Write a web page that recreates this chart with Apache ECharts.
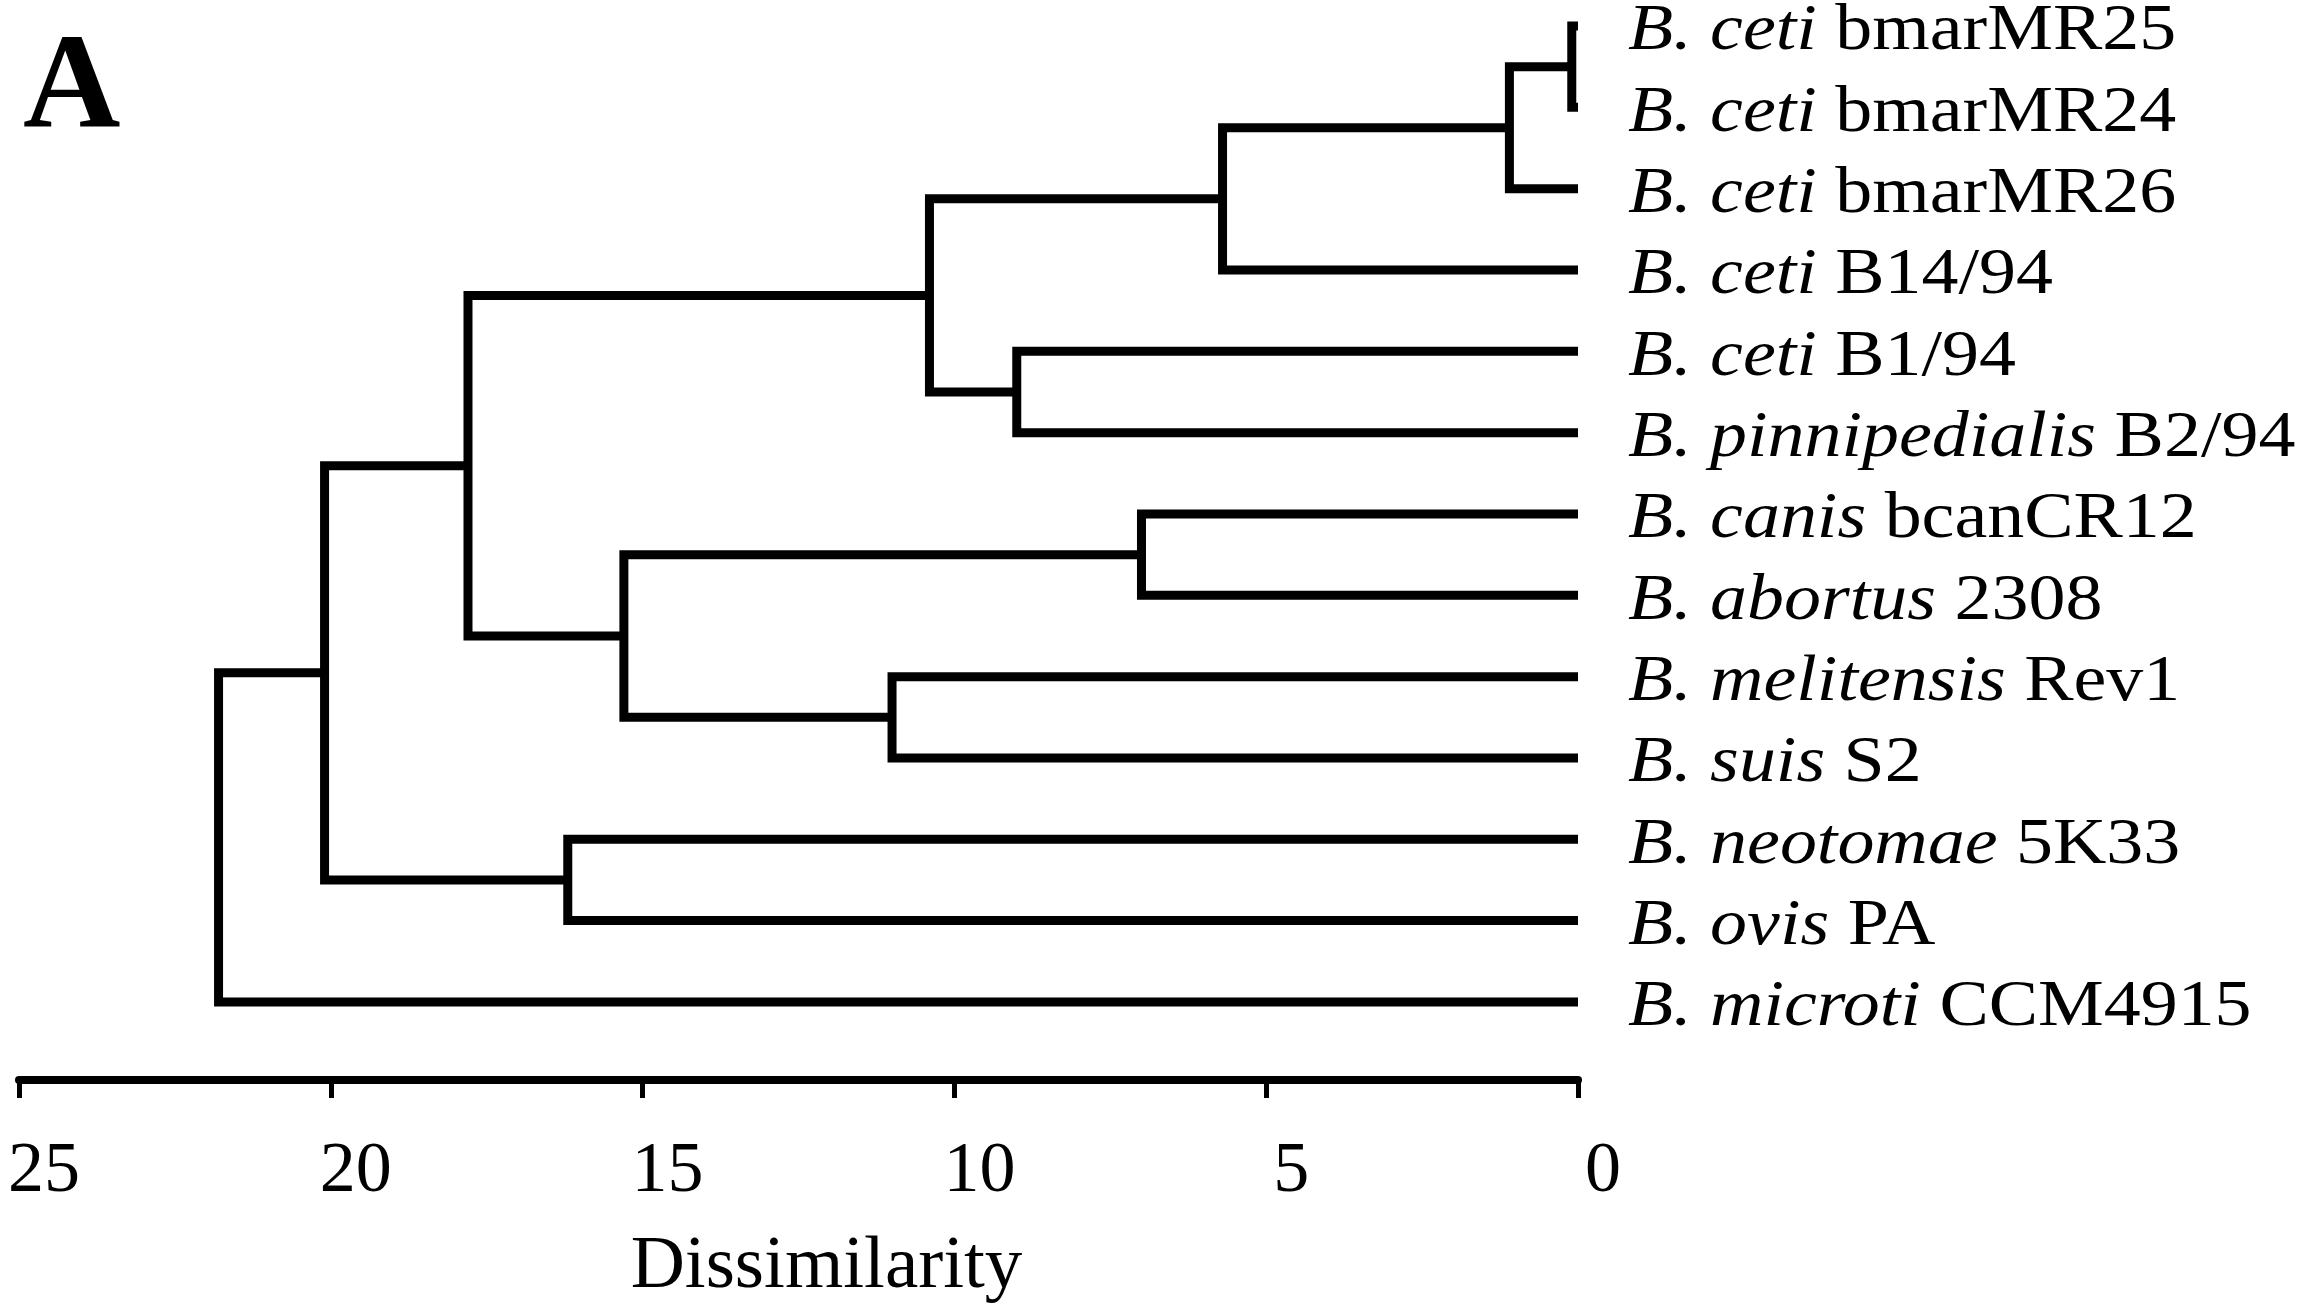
<!DOCTYPE html>
<html><head><meta charset="utf-8">
<script src="https://cdn.jsdelivr.net/npm/echarts@6/dist/echarts.min.js"></script>
<style>html,body{margin:0;padding:0;background:#fff}#c{width:2299px;height:1311px}</style>
</head><body><div id="c"></div>
<script>
// Leaves, top to bottom
const species = ['B. ceti','B. ceti','B. ceti','B. ceti','B. ceti','B. pinnipedialis','B. canis','B. abortus','B. melitensis','B. suis','B. neotomae','B. ovis','B. microti'];
const strains = ['bmarMR25','bmarMR24','bmarMR26','B14/94','B1/94','B2/94','bcanCR12','2308','Rev1','S2','5K33','PA','CCM4915'];
// Merges (nodes 13..24): children and dissimilarity at which they join
const mergeA = [0, 13, 14, 6, 4, 15, 8, 16, 10, 18, 22, 23];
const mergeB = [1, 2, 3, 7, 5, 17, 9, 19, 11, 20, 21, 12];
const mergeHeight = [0.1, 1.1, 5.7, 7.0, 9.0, 10.4, 11.0, 15.3, 16.2, 17.8, 20.1, 21.8];
// Axis ticks
const tickValues = [0, 5, 10, 15, 20, 25];

const FONT = '"Liberation Serif", "Times New Roman", serif';

// Build node positions (row index, height)
const nodeY = species.map((_, i) => i);
const nodeH = species.map(() => 0);
const branchData = [];
mergeA.forEach((a, k) => {
  const b = mergeB[k];
  const y = (nodeY[a] + nodeY[b]) / 2;
  nodeY.push(y); nodeH.push(mergeHeight[k]);
  branchData.push([nodeH[a], nodeY[a], mergeHeight[k], nodeY[b], nodeH[b]]);
});
const labelData = species.map((s, i) => [0, i]);

const chart = echarts.init(document.getElementById('c'), null, {renderer: 'canvas'});
chart.setOption({
  backgroundColor: '#fff',
  animation: false,
  grid: {left: 19, right: 721, top: 0, height: 1080, containLabel: false},
  xAxis: {
    type: 'value', min: 0, max: 25, interval: 5, inverse: true, position: 'bottom',
    splitLine: {show: false},
    axisLine: {show: true, onZero: false, lineStyle: {color: '#000', width: 8}},
    axisTick: {show: true, length: 18, lineStyle: {color: '#000', width: 5}},
    axisLabel: {color: '#000', fontSize: 72, fontFamily: FONT, margin: 56, padding: [0, 0, 0, 50],
      formatter: v => tickValues.includes(v) ? String(v) : ''},
    name: 'Dissimilarity', nameLocation: 'middle', nameGap: 150,
    nameTextStyle: {color: '#000', fontSize: 75, fontFamily: FONT, padding: [0, 0, 0, 56]}
  },
  yAxis: {type: 'value', inverse: true, min: -0.32, max: 12.96, show: false},
  graphic: [{
    type: 'text', x: 23, y: 92,
    style: {text: 'A', fontSize: 135, fontWeight: 'bold', fontFamily: FONT, fill: '#000', verticalAlign: 'middle', align: 'left'}
  }],
  series: [{
    type: 'custom',
    clip: false,
    encode: {x: [0, 2, 4], y: [1, 3]},
    data: branchData,
    renderItem: function (params, api) {
      const pA = api.coord([api.value(0), api.value(1)]);
      const cA = api.coord([api.value(2), api.value(1)]);
      const cB = api.coord([api.value(2), api.value(3)]);
      const pB = api.coord([api.value(4), api.value(3)]);
      return {
        type: 'polyline',
        shape: {points: [pA, cA, cB, pB]},
        style: {stroke: '#000', lineWidth: 9, fill: null, lineJoin: 'miter', lineCap: 'butt'}
      };
    }
  }, {
    type: 'custom',
    clip: false,
    encode: {x: 0, y: 1},
    data: labelData,
    renderItem: function (params, api) {
      const i = params.dataIndex;
      const p = api.coord([api.value(0), api.value(1)]);
      return {
        type: 'text',
        x: p[0] + 50, y: p[1] + 6,
        scaleX: 1.12, scaleY: 1,
        style: {
          text: '{i|' + species[i] + '} ' + strains[i],
          fontSize: 66, fontFamily: FONT, fill: '#000',
          align: 'left', verticalAlign: 'middle',
          rich: {i: {fontStyle: 'italic', fontSize: 66, fontFamily: FONT, fill: '#000'}}
        }
      };
    }
  }]
});
</script>
</body></html>
